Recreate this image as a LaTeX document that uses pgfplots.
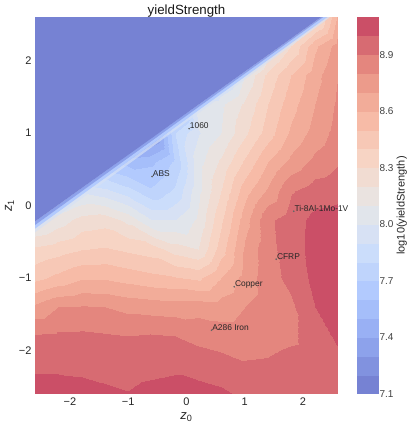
\documentclass[border=0pt]{standalone}
\usepackage{pgfplots}
\pgfplotsset{compat=1.18}
\usepackage{fontspec}
\setmainfont{Liberation Sans}
\definecolor{cbfill}{RGB}{118,130,211}
\definecolor{strA}{RGB}{141,162,235}
\definecolor{strB}{RGB}{178,202,254}
\definecolor{strC}{RGB}{214,225,245}
\begin{document}
\begin{tikzpicture}
\pgfplotsset{colormap={cw}{rgb255=(118,130,211) rgb255=(145,168,240) rgb255=(175,200,254) rgb255=(205,222,251) rgb255=(231,231,231) rgb255=(247,214,198) rgb255=(247,184,163) rgb255=(232,144,130) rgb255=(203,79,103)}}
\begin{axis}[
  at={(0,0)}, anchor=south west,
  scale only axis, width=303pt, height=377pt,
  view={0}{90},
  xmin=-2.6, xmax=2.6, ymin=-2.6, ymax=2.6,
  colormap name=cw,
  point meta min=7.1, point meta max=9.1,
  xtick={-2,-1,0,1,2}, xticklabels={−2,−1,0,1,2},
  ytick={-2,-1,0,1,2}, yticklabels={−2,−1,0,1,2},
  ztick=\empty,
  tick style={draw=none},
  axis line style={draw=none},
  ticklabel style={font=\fontsize{11}{13}\selectfont, text=black!85},
  xlabel={\textit{z}\textsubscript{0}},
  ylabel={\textit{z}\textsubscript{1}},
  label style={font=\fontsize{13}{15}\selectfont, text=black!85},
  ylabel style={xshift=0pt, yshift=-2pt},
  title={yieldStrength},
  title style={font=\fontsize{13.3}{15}\selectfont, text=black!90, yshift=-10pt},
]
\addplot3[contour filled={number=20}] table {
x y z
-2.6 -2.6 9.05
-2.2 -2.6 9.045
-1.8 -2.6 9.035
-1.4 -2.6 9.02
-1.0 -2.6 9.005
-0.6 -2.6 9.03
-0.2 -2.6 9.04
0.2 -2.6 9.04
0.6 -2.6 9.02
1.0 -2.6 8.98
1.4 -2.6 8.96
1.8 -2.6 8.96
2.2 -2.6 8.97
2.6 -2.6 8.98

-2.6 -2.2 8.98
-2.2 -2.2 8.98
-1.8 -2.2 8.976
-1.4 -2.2 8.965
-1.0 -2.2 8.96
-0.6 -2.2 8.97
-0.2 -2.2 8.98
0.2 -2.2 8.957
0.6 -2.2 8.94
1.0 -2.2 8.91
1.4 -2.2 8.915
1.8 -2.2 8.94
2.2 -2.2 8.95
2.6 -2.2 8.97

-2.6 -1.8 8.91
-2.2 -1.8 8.92
-1.8 -1.8 8.92
-1.4 -1.8 8.91
-1.0 -1.8 8.90
-0.6 -1.8 8.91
-0.2 -1.8 8.90
0.2 -1.8 8.87
0.6 -1.8 8.85
1.0 -1.8 8.85
1.4 -1.8 8.86
1.8 -1.8 8.88
2.2 -1.8 8.95
2.6 -1.8 9.02

-2.6 -1.4 8.725
-2.2 -1.4 8.80
-1.8 -1.4 8.81
-1.4 -1.4 8.80
-1.0 -1.4 8.77
-0.6 -1.4 8.757
-0.2 -1.4 8.75
0.2 -1.4 8.76
0.6 -1.4 8.75
1.0 -1.4 8.8
1.4 -1.4 8.85
1.8 -1.4 8.88
2.2 -1.4 9.0
2.6 -1.4 9.05

-2.6 -1.0 8.47
-2.2 -1.0 8.53
-1.8 -1.0 8.59
-1.4 -1.0 8.59
-1.0 -1.0 8.56
-0.6 -1.0 8.53
-0.2 -1.0 8.51
0.2 -1.0 8.48
0.6 -1.0 8.6
1.0 -1.0 8.74
1.4 -1.0 8.86
1.8 -1.0 8.93
2.2 -1.0 9.03
2.6 -1.0 9.06

-2.6 -0.6 8.32
-2.2 -0.6 8.355
-1.8 -0.6 8.395
-1.4 -0.6 8.41
-1.0 -0.6 8.38
-0.6 -0.6 8.35
-0.2 -0.6 8.25
0.2 -0.6 8.2
0.6 -0.6 8.45
1.0 -0.6 8.72
1.4 -0.6 8.87
1.8 -0.6 8.95
2.2 -0.6 9.04
2.6 -0.6 9.06

-2.6 -0.2 8.05
-2.2 -0.2 8.145
-1.8 -0.2 8.24
-1.4 -0.2 8.26
-1.0 -0.2 8.17
-0.6 -0.2 8.0
-0.2 -0.2 8.0
0.2 -0.2 8.12
0.6 -0.2 8.38
1.0 -0.2 8.66
1.4 -0.2 8.88
1.8 -0.2 8.95
2.2 -0.2 9.03
2.6 -0.2 9.04

-2.6 0.2 7.9
-2.2 0.2 7.9
-1.8 0.2 7.98
-1.4 0.2 7.93
-1.0 0.2 7.84
-0.6 0.2 7.72
-0.2 0.2 7.82
0.2 0.2 8.07
0.6 0.2 8.3
1.0 0.2 8.56
1.4 0.2 8.72
1.8 0.2 8.89
2.2 0.2 8.95
2.6 0.2 8.97

-2.6 0.6 7.7
-2.2 0.6 7.6
-1.8 0.6 7.6
-1.4 0.6 7.62
-1.0 0.6 7.56
-0.6 0.6 7.58
-0.2 0.6 7.72
0.2 0.6 8.06
0.6 0.6 8.22
1.0 0.6 8.42
1.4 0.6 8.6
1.8 0.6 8.73
2.2 0.6 8.83
2.6 0.6 8.89

-2.6 1.0 7.5
-2.2 1.0 7.3
-1.8 1.0 7.3
-1.4 1.0 7.2
-1.0 1.0 7.15
-0.6 1.0 7.25
-0.2 1.0 7.8
0.2 1.0 7.99
0.6 1.0 8.1
1.0 1.0 8.28
1.4 1.0 8.45
1.8 1.0 8.62
2.2 1.0 8.74
2.6 1.0 8.84

-2.6 1.4 7.3
-2.2 1.4 7.1
-1.8 1.4 7.1
-1.4 1.4 7.0
-1.0 1.4 7.0
-0.6 1.4 7.0
-0.2 1.4 7.5
0.2 1.4 8.05
0.6 1.4 8.08
1.0 1.4 8.22
1.4 1.4 8.4
1.8 1.4 8.56
2.2 1.4 8.7
2.6 1.4 8.82

-2.6 1.8 7.1
-2.2 1.8 7.0
-1.8 1.8 7.0
-1.4 1.8 7.0
-1.0 1.8 7.0
-0.6 1.8 7.0
-0.2 1.8 7.0
0.2 1.8 7.5
0.6 1.8 7.8
1.0 1.8 8.1
1.4 1.8 8.33
1.8 1.8 8.5
2.2 1.8 8.66
2.6 1.8 8.8

-2.6 2.2 7.0
-2.2 2.2 7.0
-1.8 2.2 7.0
-1.4 2.2 7.0
-1.0 2.2 7.0
-0.6 2.2 7.0
-0.2 2.2 7.0
0.2 2.2 7.2
0.6 2.2 7.4
1.0 2.2 7.7
1.4 2.2 8.1
1.8 2.2 8.3
2.2 2.2 8.58
2.6 2.2 8.75

-2.6 2.6 7.0
-2.2 2.6 7.0
-1.8 2.6 7.0
-1.4 2.6 7.0
-1.0 2.6 7.0
-0.6 2.6 7.0
-0.2 2.6 7.0
0.2 2.6 7.0
0.6 2.6 7.0
1.0 2.6 7.2
1.4 2.6 7.5
1.8 2.6 7.9
2.2 2.6 8.2
2.6 2.6 8.62
};
% sharp edge and its narrow gradient
\addplot3[fill=strC, draw=none, fill opacity=0.7] coordinates {(-2.6,-0.32,9) (2.45,2.619,9) (2.45,2.589,9) (-2.6,-0.37,9)} -- cycle;
\addplot3[fill=strB, draw=none] coordinates {(-2.6,-0.27,9) (2.45,2.659,9) (2.45,2.619,9) (-2.6,-0.32,9)} -- cycle;
\addplot3[fill=strA, draw=none] coordinates {(-2.6,-0.22,9) (2.45,2.679,9) (2.45,2.659,9) (-2.6,-0.27,9)} -- cycle;
\addplot3[fill=cbfill, draw=none] coordinates {(-2.6,-0.22,9) (2.45,2.679,9) (-2.6,2.7,9)} -- cycle;
% labelled materials
\addplot3[only marks, mark=*, mark size=0.6pt, color=black!60,
  nodes near coords, point meta=explicit symbolic,
  nodes near coords style={anchor=base west, inner sep=0pt, xshift=0.6pt,
    font=\fontsize{8.4}{10}\selectfont, text=black!85}]
  coordinates {
  (0.046,1.06,9) [1060]
  (-0.59,0.40,9) [ABS]
  (1.84,-0.08,9) [Ti-8Al-1Mo-1V]
  (1.54,-0.74,9) [CFRP]
  (0.82,-1.12,9) [Copper]
  (0.43,-1.72,9) [A286 Iron]
  };
\end{axis}
% colour bar: the value range drawn as its own filled contour
\begin{axis}[
  at={(322pt,0pt)}, anchor=south west,
  scale only axis, width=21pt, height=377pt,
  view={0}{90}, clip=false,
  xmin=0, xmax=1, ymin=7.1, ymax=9.1,
  colormap name=cw,
  point meta min=7.1, point meta max=9.1,
  xtick=\empty, ztick=\empty,
  ytick={7.1,7.4,7.7,8.0,8.3,8.6,8.9},
  yticklabels={7.1,7.4,7.7,8.0,8.3,8.6,8.9},
  yticklabel pos=right,
  yticklabel style={font=\fontsize{10}{12}\selectfont, text=black!75, xshift=-2pt},
  tick style={draw=none},
  axis line style={draw=none},
]
\addplot3[contour filled={number=20}] table {
x y z
0 7.1 7.1
1 7.1 7.1

0 9.1 9.1
1 9.1 9.1
};
\node[anchor=north, rotate=90, font=\fontsize{11}{13}\selectfont, text=black!85]
  at ([xshift=15pt]axis description cs:1,0.5) {log10(yieldStrength)};
\end{axis}
\pgfresetboundingbox
\path[use as bounding box] (-35pt,-33pt) rectangle (373pt,394pt);
\end{tikzpicture}
\end{document}
